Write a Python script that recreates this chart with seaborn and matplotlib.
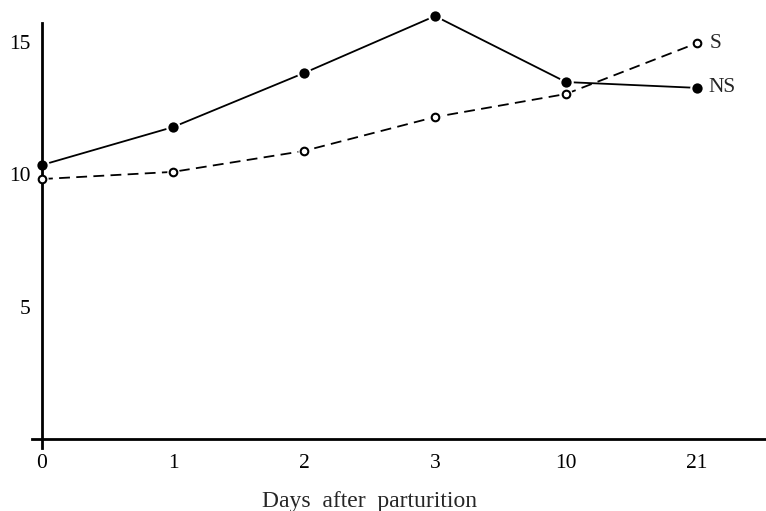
import matplotlib
matplotlib.use("Agg")
import matplotlib.pyplot as plt
import seaborn as sns
import pandas as pd

days = ["0", "1", "2", "3", "10", "21"]
ns_values = [10.34, 11.77, 13.81, 15.96, 13.47, 13.25]
s_values = [9.81, 10.08, 10.87, 12.15, 13.02, 14.94]
y_ticks = [5, 10, 15]

sns.set_style("white")
plt.rcParams["font.family"] = ["Liberation Serif", "DejaVu Serif"]
plt.rcParams["font.size"] = 15

df = pd.DataFrame({"day": days, "NS": ns_values, "S": s_values})
df["pos"] = range(len(days))

fig = plt.figure(figsize=(7.66, 5.11), dpi=100)
# axes box in pixels: left 32, right 766, top 10, bottom 448
ax = fig.add_axes([32 / 766, 1 - 448 / 511, 734 / 766, 438 / 511])

sns.lineplot(data=df, x="pos", y="NS", ax=ax, color="black", lw=1.3, zorder=1)
sns.lineplot(data=df, x="pos", y="S", ax=ax, color="black", lw=1.3,
             dashes=False, zorder=1)
ax.lines[-1].set_dashes((6, 3.5))

# white halos so the lines stop short of the markers
sns.scatterplot(data=df, x="pos", y="NS", ax=ax, color="white", s=110,
                linewidth=0, zorder=2)
sns.scatterplot(data=df, x="pos", y="S", ax=ax, color="white", s=80,
                linewidth=0, zorder=2)
sns.scatterplot(data=df, x="pos", y="NS", ax=ax, color="black", s=55,
                linewidth=0, zorder=3)
sns.scatterplot(data=df, x="pos", y="S", ax=ax, facecolor="white",
                edgecolor="black", s=30, linewidth=1.5, zorder=3)

last = len(days) - 1
ax.text(last + 0.1, s_values[-1], "S", va="center", ha="left", fontsize=15.5)
ax.text(last + 0.085, ns_values[-1], "NS", va="center", ha="left", fontsize=15.5)

step_x = 131.0
step_y = 26.5
ax.set_xlim(-10 / step_x, 724 / step_x)
ax.set_ylim(-9 / step_y, 429 / step_y)

ax.set_xticks(range(len(days)))
ax.set_xticklabels(days)
ax.set_yticks(y_ticks)
ax.tick_params(axis="both", length=0, labelsize=15.5, colors="black")
ax.tick_params(axis="x", pad=11)
ax.tick_params(axis="y", pad=8)

for side in ["top", "right"]:
    ax.spines[side].set_visible(False)
ax.spines["left"].set_position(("data", 0))
ax.spines["left"].set_bounds(-9 / step_y, 416 / step_y)
ax.spines["bottom"].set_position(("data", 0))
for side in ["left", "bottom"]:
    ax.spines[side].set_color("black")
    ax.spines[side].set_linewidth(2)

ax.set_ylabel("")
ax.set_xlabel("Days  after  parturition", fontsize=17)
ax.xaxis.set_label_coords(337 / 734, -54 / 438)
ax.xaxis.label.set_verticalalignment("center")

fig.savefig("out.png", dpi=100)
plt.close(fig)
